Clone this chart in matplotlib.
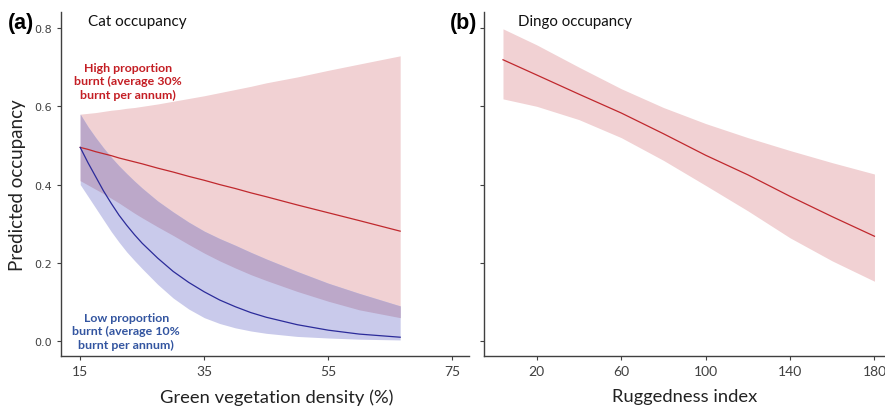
import matplotlib
matplotlib.use("Agg")
import matplotlib.pyplot as plt
import numpy as np

# ---- Data: panel (a) cat occupancy vs green vegetation density ----
cat_x = [15, 16.25, 17.5, 18.75, 20, 21.25, 22.5, 23.75, 25, 27.5, 30, 32.5, 35, 37.5, 40, 42.5, 45, 50, 55, 60, 66.6]
high_mean = [0.495, 0.490, 0.484, 0.479, 0.474, 0.468, 0.463, 0.458, 0.453, 0.442, 0.432, 0.421, 0.411, 0.400, 0.390, 0.379, 0.369, 0.348, 0.328, 0.308, 0.281]
high_hi = [0.580, 0.582, 0.584, 0.587, 0.590, 0.592, 0.595, 0.597, 0.600, 0.606, 0.613, 0.620, 0.627, 0.635, 0.643, 0.651, 0.660, 0.675, 0.692, 0.708, 0.729]
high_lo = [0.410, 0.399, 0.388, 0.377, 0.365, 0.353, 0.340, 0.327, 0.315, 0.292, 0.270, 0.247, 0.225, 0.205, 0.187, 0.170, 0.155, 0.127, 0.102, 0.080, 0.060]
low_mean = [0.495, 0.456, 0.420, 0.384, 0.352, 0.322, 0.296, 0.272, 0.250, 0.212, 0.178, 0.150, 0.126, 0.105, 0.088, 0.073, 0.061, 0.042, 0.028, 0.018, 0.010]
low_hi = [0.580, 0.548, 0.520, 0.494, 0.470, 0.448, 0.428, 0.409, 0.391, 0.358, 0.330, 0.304, 0.281, 0.262, 0.245, 0.227, 0.210, 0.178, 0.148, 0.122, 0.090]
low_lo = [0.400, 0.370, 0.340, 0.310, 0.280, 0.253, 0.228, 0.206, 0.185, 0.145, 0.110, 0.082, 0.060, 0.045, 0.034, 0.026, 0.020, 0.012, 0.008, 0.005, 0.003]
cat_xticks = [15, 35, 55, 75]

# ---- Data: panel (b) dingo occupancy vs ruggedness ----
dingo_x = [4, 20, 40, 60, 80, 100, 120, 140, 160, 180]
dingo_mean = [0.719, 0.680, 0.631, 0.583, 0.530, 0.475, 0.425, 0.370, 0.318, 0.268]
dingo_hi = [0.798, 0.757, 0.700, 0.645, 0.597, 0.556, 0.520, 0.487, 0.456, 0.427]
dingo_lo = [0.619, 0.600, 0.566, 0.520, 0.462, 0.398, 0.333, 0.264, 0.205, 0.153]
dingo_xticks = [20, 60, 100, 140, 180]

yticks = [0.0, 0.2, 0.4, 0.6, 0.8]
ytick_labels = ["0.0", "0.2", "0.4", "0.6", "0.8"]

PINK = "#f1d1d3"
LBLUE = "#c9caeb"
PURPLE = "#bca8c9"
RED = "#c0282d"
NAVY = "#2b2b9a"
AXC = "#404040"
FONT = ["Lato", "DejaVu Sans"]

fig = plt.figure(figsize=(8.85, 4.10), dpi=100)
ax1 = fig.add_axes([61/885, 53/410, 408/885, 344/410])
ax2 = fig.add_axes([484/885, 53/410, 401/885, 344/410])

for ax in (ax1, ax2):
    for s in ("top", "right"):
        ax.spines[s].set_visible(False)
    for s in ("left", "bottom"):
        ax.spines[s].set_color(AXC)
        ax.spines[s].set_linewidth(1.0)
    ax.tick_params(axis="both", colors=AXC, length=3, width=0.8, labelsize=8.5)
    ax.set_ylim(-0.038, 0.841)
    ax.set_yticks(yticks)

# Panel (a)
cx = np.array(cat_x)
hh, hl = np.array(high_hi), np.array(high_lo)
lh, ll = np.array(low_hi), np.array(low_lo)
ax1.fill_between(cx, hl, hh, color=PINK, linewidth=0)
ax1.fill_between(cx, ll, lh, color=LBLUE, linewidth=0)
ax1.fill_between(cx, np.maximum(hl, ll), np.minimum(hh, lh), color=PURPLE, linewidth=0)
ax1.plot(cx, high_mean, color=RED, lw=0.9)
ax1.plot(cx, low_mean, color=NAVY, lw=0.9)
ax1.set_xlim(11.9, 77.7)
ax1.set_xticks(cat_xticks)
ax1.set_yticklabels(ytick_labels, family="DejaVu Sans", fontsize=8)
for lab in ax1.get_xticklabels():
    lab.set_family(FONT)
    lab.set_fontsize(10)
ax1.set_xlabel("Green vegetation density (%)", family=FONT, fontsize=13.2, color="#222222", labelpad=8)
ax1.xaxis.label.set_x(0.528)
ax1.set_ylabel("Predicted occupancy", family=FONT, fontsize=13.5, color="#222222", labelpad=6)
ax1.text(0.065, 0.975, "Cat occupancy", transform=ax1.transAxes, family=FONT,
         fontsize=11, color="#111111", va="center", ha="left")
ax1.text(0.164, 0.80, "High proportion\nburnt (average 30%\nburnt per annum)", transform=ax1.transAxes,
         family=FONT, fontsize=8.9, fontweight="bold", color="#c41e24", ha="center", va="center",
         linespacing=1.3)
ax1.text(0.16, 0.073, "Low proportion\nburnt (average 10%\nburnt per annum)", transform=ax1.transAxes,
         family=FONT, fontsize=8.9, fontweight="bold", color="#3355a0", ha="center", va="center",
         linespacing=1.3)

# Panel (b)
ax2.fill_between(dingo_x, dingo_lo, dingo_hi, color=PINK, linewidth=0)
ax2.plot(dingo_x, dingo_mean, color=RED, lw=0.9)
ax2.set_xlim(-5, 185)
ax2.set_xticks(dingo_xticks)
ax2.set_yticklabels([])
for lab in ax2.get_xticklabels():
    lab.set_family(FONT)
    lab.set_fontsize(10)
ax2.set_xlabel("Ruggedness index", family=FONT, fontsize=13.2, color="#222222", labelpad=8)
ax2.text(0.085, 0.975, "Dingo occupancy", transform=ax2.transAxes, family=FONT,
         fontsize=10.8, color="#111111", va="center", ha="left")

fig.text(8/885, 1 - 23/410, "(a)", family=["Liberation Sans", "DejaVu Sans"], fontsize=15.5,
         fontweight="bold", va="center", ha="left")
fig.text(450/885, 1 - 23/410, "(b)", family=["Liberation Sans", "DejaVu Sans"], fontsize=15.5,
         fontweight="bold", va="center", ha="left")

fig.savefig("out.png", dpi=100)
